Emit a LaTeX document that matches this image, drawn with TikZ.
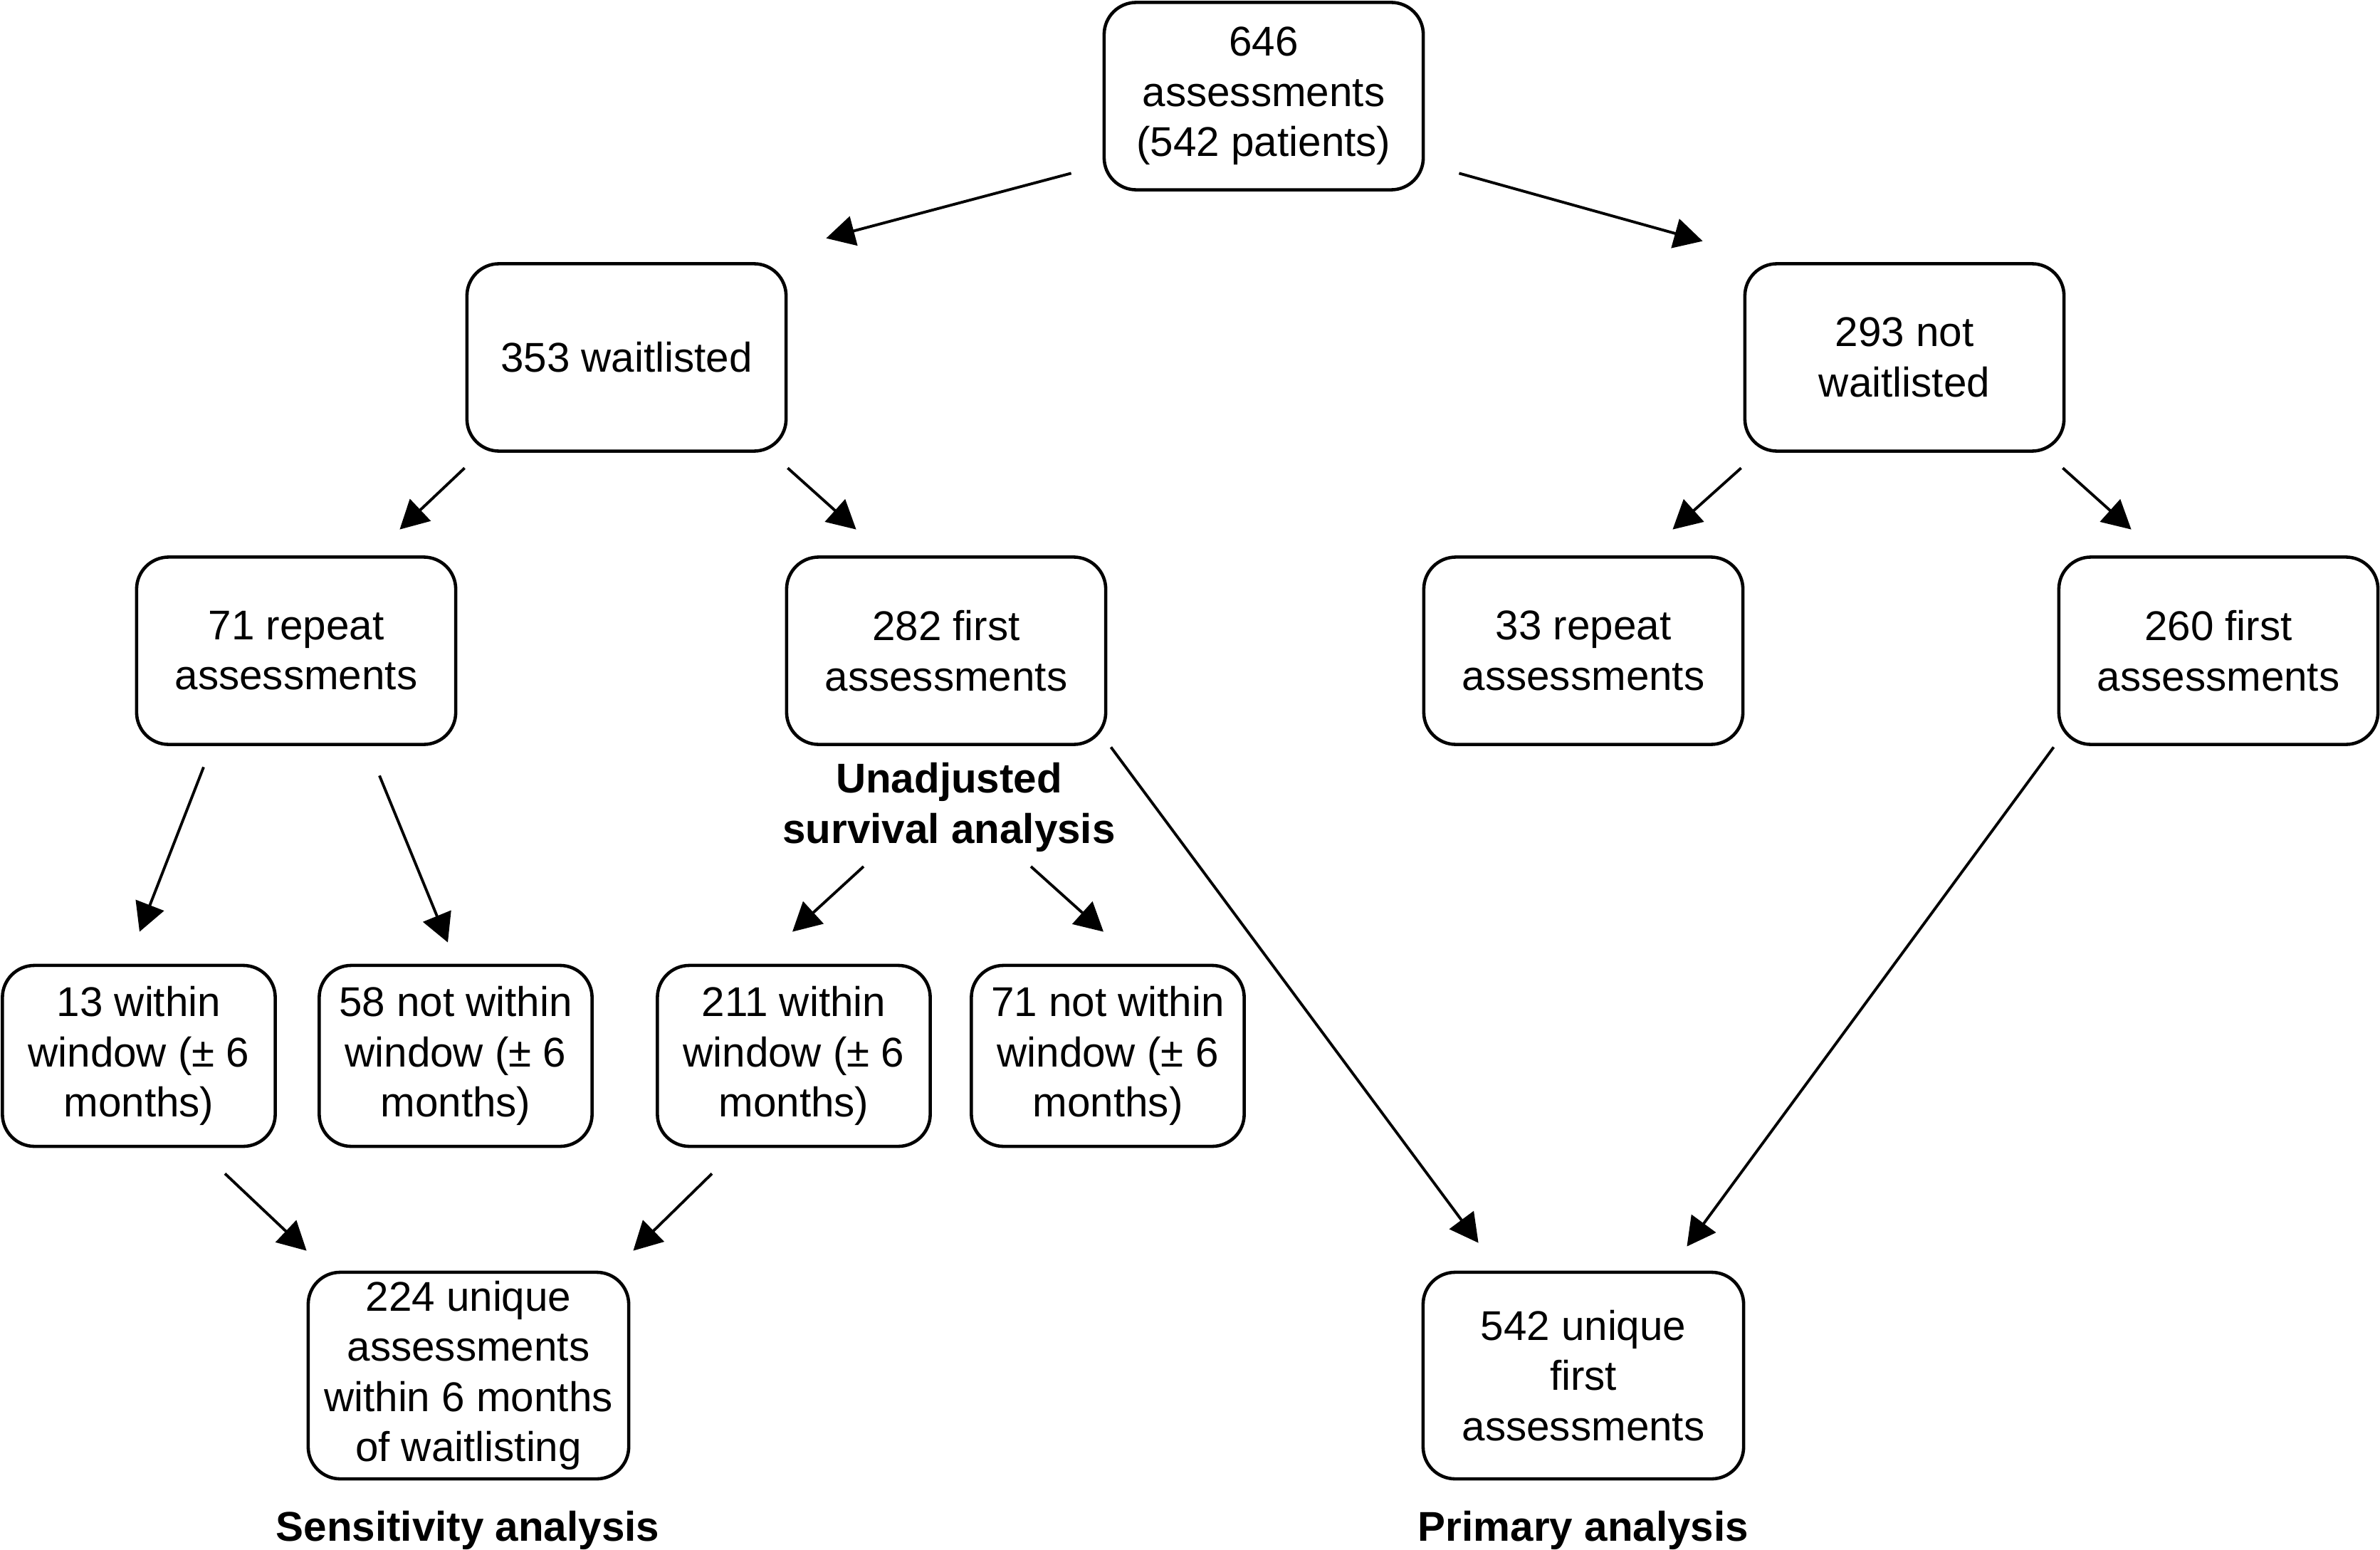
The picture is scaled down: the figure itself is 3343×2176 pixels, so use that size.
\documentclass[tikz,border=0pt]{standalone}
\usepackage{fontspec}
\setmainfont{Liberation Sans}
\usetikzlibrary{arrows.meta}

\begin{document}
\begin{tikzpicture}[
        x=0.01cm, y=-0.01cm,
        flow/.style={
            -{Triangle[length=0.4cm,width=0.42cm]},
            line width=1.1pt,
            draw=black
        },
        box/.style={
            rectangle,
            rounded corners=0.45cm,
            draw=black,
            line width=1.3pt,
            minimum width=4.48cm,
            minimum height=2.63cm,
            inner sep=0pt,
            align=center,
            font=\fontsize{16.6}{20}\selectfont
        },
        sbox/.style={
            box,
            minimum width=3.83cm,
            minimum height=2.54cm
        },
        lbox/.style={
            box,
            minimum width=4.5cm,
            minimum height=2.9cm
        },
        analysis/.style={
            inner sep=0pt,
            align=center,
            font=\bfseries\fontsize{16.6}{20}\selectfont
        }
    ]
        \useasboundingbox (0,0) rectangle (3343,2176);

        % All assessments
        \node[box] (total) at (1775,135) {646\\assessments\\(542 patients)};

        % Waitlist split
        \node[box] (wait) at (880,502) {353 waitlisted};
        \node[box] (nowait) at (2675,502) {293 not\\waitlisted};

        % Repeat / first assessments
        \node[box] (rep1) at (416,914) {71 repeat\\assessments};
        \node[box] (first1) at (1329,914) {282 first\\assessments};
        \node[box] (rep2) at (2224,914) {33 repeat\\assessments};
        \node[box] (first2) at (3116,914) {260 first\\assessments};

        \node[analysis] (unadj) at (1333,1134) {Unadjusted\\survival analysis};

        % Window (+/- 6 months)
        \node[sbox] (in13) at (195,1483) {13 within\\window (± 6\\months)};
        \node[sbox] (out58) at (640,1483) {58 not within\\window (± 6\\months)};
        \node[sbox] (in211) at (1115,1483) {211 within\\window (± 6\\months)};
        \node[sbox] (out71) at (1556,1483) {71 not within\\window (± 6\\months)};

        % Final samples
        \node[lbox] (uniq224) at (658,1932) {224 unique\\assessments\\within 6 months\\of waitlisting};
        \node[lbox] (uniq542) at (2224,1932) {542 unique\\first\\assessments};

        \node[analysis] (sens) at (657,2149) {Sensitivity analysis};
        \node[analysis] (prim) at (2224,2149) {Primary analysis};

        % Arrows
        \draw[flow] ([shift={(-44,-25.5)}]total.south west) -- ([shift={(54,-33.5)}]wait.north east);
        \draw[flow] ([shift={(48,-25.5)}]total.south east) -- ([shift={(-57,-29.5)}]nowait.north west);

        \draw[flow] ([shift={(-1,21.5)}]wait.south west) -- ([shift={(-81,-36.5)}]rep1.north east);
        \draw[flow] ([shift={(0,21.5)}]wait.south east) -- ([shift={(100,-36.5)}]first1.north west);
        \draw[flow] ([shift={(-3,21.5)}]nowait.south west) -- ([shift={(-101,-36.5)}]rep2.north east);
        \draw[flow] ([shift={(-4,21.5)}]nowait.south east) -- ([shift={(104,-36.5)}]first2.north west);

        \draw[flow] ([shift={(-130,29.5)}]rep1.south) -- ([shift={(1,-45)}]in13.north);
        \draw[flow] ([shift={(117,41.5)}]rep1.south) -- ([shift={(-11,-30)}]out58.north);
        \draw[flow] ([shift={(-120,83)}]unadj.center) -- ([shift={(-2,-45)}]in211.north);
        \draw[flow] ([shift={(115,83)}]unadj.center) -- ([shift={(-6,-45)}]out71.north);

        \draw[flow] ([shift={(5,1.5)}]first1.south east) -- ([shift={(80,-39)}]uniq542.north west);
        \draw[flow] ([shift={(-5,1.5)}]first2.south west) -- ([shift={(-82,-34)}]uniq542.north east);

        \draw[flow] ([shift={(121,36)}]in13.south) -- ([shift={(0,-28)}]uniq224.north west);
        \draw[flow] ([shift={(-115,36)}]in211.south) -- ([shift={(4,-28)}]uniq224.north east);
    \end{tikzpicture}
\end{document}
